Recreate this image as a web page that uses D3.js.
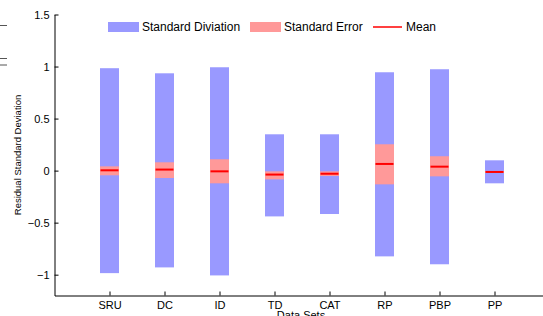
<!DOCTYPE html>
<html>
<head>
<meta charset="utf-8">
<script src="https://cdn.jsdelivr.net/npm/d3@7"></script>
<style>
  body { margin: 0; background: #fff; }
  svg { display: block; font-family: "Liberation Sans", Arial, sans-serif; }
  .axis path, .axis line { stroke: #000; }
  .axis text { fill: #000; font-size: 11px; }
</style>
</head>
<body>
<svg id="chart" width="543" height="316"></svg>
<script>
var categories = ["SRU", "DC", "ID", "TD", "CAT", "RP", "PBP", "PP"];
var meanVals = [0.003, 0.01, -0.007, -0.038, -0.03, 0.064, 0.038, -0.013];
var sdHigh = [0.984, 0.935, 0.993, 0.349, 0.349, 0.945, 0.974, 0.099];
var sdLow = [-0.985, -0.93, -1.007, -0.44, -0.417, -0.824, -0.90, -0.122];
var seHigh = [0.041, 0.08, 0.109, -0.007, -0.007, 0.253, 0.138, -0.003];
var seLow = [-0.045, -0.071, -0.122, -0.084, -0.052, -0.132, -0.055, -0.023];
var yTicks = [-1, -0.5, 0, 0.5, 1, 1.5];

var svg = d3.select("#chart");
var x = d3.scaleLinear().domain([0, 9]).range([54.5, 549.5]);
var y = d3.scaleLinear().domain([-1.2, 1.5]).range([295.5, 14.5]);
var barW = 19;

var rows = categories.map(function(c, i) {
    return { name: c, pos: i + 1, mean: meanVals[i], sdLo: sdLow[i], sdHi: sdHigh[i], seLo: seLow[i], seHi: seHigh[i] };
});

// standard deviation bars
svg.selectAll("rect.sd").data(rows).enter().append("rect")
    .attr("class", "sd")
    .attr("x", d => x(d.pos) - barW / 2)
    .attr("width", barW)
    .attr("y", d => y(d.sdHi))
    .attr("height", d => y(d.sdLo) - y(d.sdHi))
    .attr("fill", "#9999ff");

// standard error bars
svg.selectAll("rect.se").data(rows).enter().append("rect")
    .attr("class", "se")
    .attr("x", d => x(d.pos) - barW / 2)
    .attr("width", barW)
    .attr("y", d => y(d.seHi))
    .attr("height", d => y(d.seLo) - y(d.seHi))
    .attr("fill", "#ff9999");

// mean
svg.selectAll("line.mean").data(rows).enter().append("line")
    .attr("class", "mean")
    .attr("x1", d => x(d.pos) - barW / 2 + 0.5)
    .attr("x2", d => x(d.pos) + barW / 2 - 0.5)
    .attr("y1", d => y(d.mean))
    .attr("y2", d => y(d.mean))
    .attr("stroke", "#ff0000")
    .attr("stroke-width", 2);

// axes
svg.append("g").attr("class", "axis")
    .attr("transform", "translate(" + x(0) + ",0)")
    .call(d3.axisLeft(y).tickValues(yTicks).tickSize(-4).tickSizeOuter(0).tickPadding(5)
        .tickFormat(d3.format("")));

svg.append("g").attr("class", "axis")
    .attr("transform", "translate(0," + y(-1.2) + ")")
    .call(d3.axisBottom(x).tickValues(d3.range(1, 9)).tickSize(-4).tickSizeOuter(0).tickPadding(6)
        .tickFormat(d => categories[d - 1]));

// axis titles
svg.append("text")
    .attr("transform", "translate(21,155) rotate(-90)")
    .attr("text-anchor", "middle")
    .attr("font-size", "9.5px")
    .text("Residual Standard Deviation");

svg.append("text")
    .attr("x", 301).attr("y", 319)
    .attr("text-anchor", "middle")
    .attr("font-size", "11px")
    .text("Data Sets");

// legend
var legend = svg.append("g").attr("font-size", "12px");
legend.append("rect").attr("x", 108).attr("y", 22).attr("width", 31).attr("height", 10).attr("fill", "#9999ff");
legend.append("text").attr("x", 142).attr("y", 31).text("Standard Diviation");
legend.append("rect").attr("x", 250).attr("y", 22).attr("width", 31).attr("height", 10).attr("fill", "#ff9999");
legend.append("text").attr("x", 284).attr("y", 31).text("Standard Error");
legend.append("line").attr("x1", 373).attr("x2", 402).attr("y1", 27).attr("y2", 27)
    .attr("stroke", "#ff0000").attr("stroke-width", 1.5);
legend.append("text").attr("x", 406).attr("y", 31).text("Mean");

// fragments of the neighbouring figure at the left edge
[25.5, 58.5, 65].forEach(function(v) {
    svg.append("line").attr("x1", 0).attr("x2", 7).attr("y1", v).attr("y2", v)
        .attr("stroke", "#555").attr("stroke-width", 1);
});
</script>
</body>
</html>
